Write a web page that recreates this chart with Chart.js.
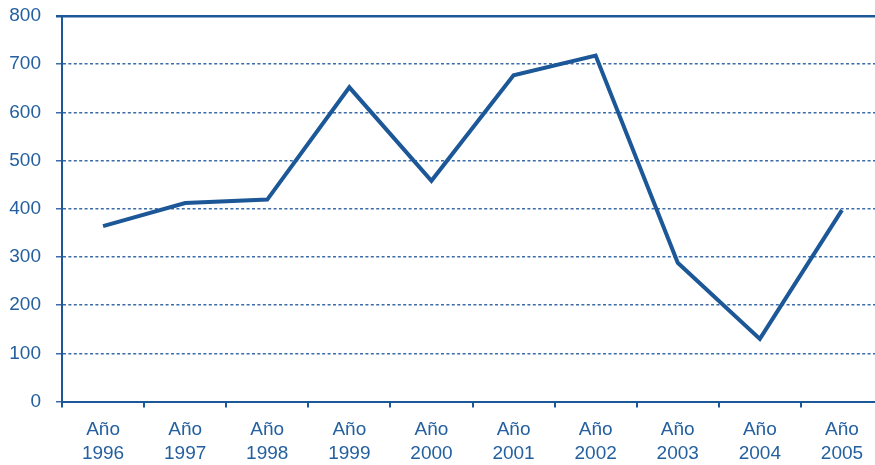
<!DOCTYPE html>
<html>
<head>
<meta charset="utf-8">
<script src="https://cdn.jsdelivr.net/npm/chart.js@4"></script>
<style>
  html, body { margin: 0; padding: 0; background: #fff; overflow: hidden; }
  #wrap { width: 885px; height: 465px; }
</style>
</head>
<body>
<div id="wrap"><canvas id="lineaChart" width="885" height="465"></canvas></div>
<script>
const anios = ["1996", "1997", "1998", "1999", "2000", "2001", "2002", "2003", "2004", "2005"];
const etiquetas = anios.map(a => ["Año", a]);
const valores = [364, 412, 419, 652, 458, 677, 718, 288, 130, 397];

const azul = "#1c5797";
const texto = "#24609f";
const fuente = { family: "'Liberation Sans Narrow', 'Arial Narrow', 'Liberation Sans', sans-serif", size: 19, lineHeight: 1.26 };

const ctx = document.getElementById("lineaChart").getContext("2d");
new Chart(ctx, {
  type: "line",
  data: {
    labels: etiquetas,
    datasets: [
      {
        label: "Valor",
        data: valores,
        borderColor: azul,
        borderWidth: 4,
        borderJoinStyle: "miter",
        pointRadius: 0,
        tension: 0,
        fill: false
      }
    ]
  },
  options: {
    responsive: false,
    animation: false,
    layout: { padding: { top: 16, right: 2, left: 0, bottom: 0 } },
    plugins: { legend: { display: false }, tooltip: { enabled: false } },
    scales: {
      x: {
        offset: true,
        afterFit: s => { s.height = 63.5; },
        grid: {
          offset: true,
          drawOnChartArea: false,
          drawTicks: true,
          tickLength: 6,
          color: azul,
          lineWidth: 2
        },
        border: { display: true, color: azul, width: 2 },
        ticks: { color: texto, font: fuente, padding: 10, maxRotation: 0, autoSkip: false }
      },
      y: {
        min: 0,
        max: 800,
        afterFit: s => {
          s.width = 62;
          // the top label may stick out above the plot
          s.paddingTop = 0;
          s.paddingBottom = 0;
        },
        grid: {
          color: c => c.tick && c.tick.value === 800 ? azul : "#3b6ca8",
          lineWidth: c => c.tick && c.tick.value === 800 ? 2.5 : 1.5,
          tickLength: 6
        },
        border: {
          display: true,
          color: azul,
          width: 2,
          dash: c => c.tick && c.tick.value === 800 ? [] : [3, 2.4]
        },
        ticks: { stepSize: 100, color: texto, font: fuente, padding: 15 }
      }
    }
  }
});
</script>
</body>
</html>
